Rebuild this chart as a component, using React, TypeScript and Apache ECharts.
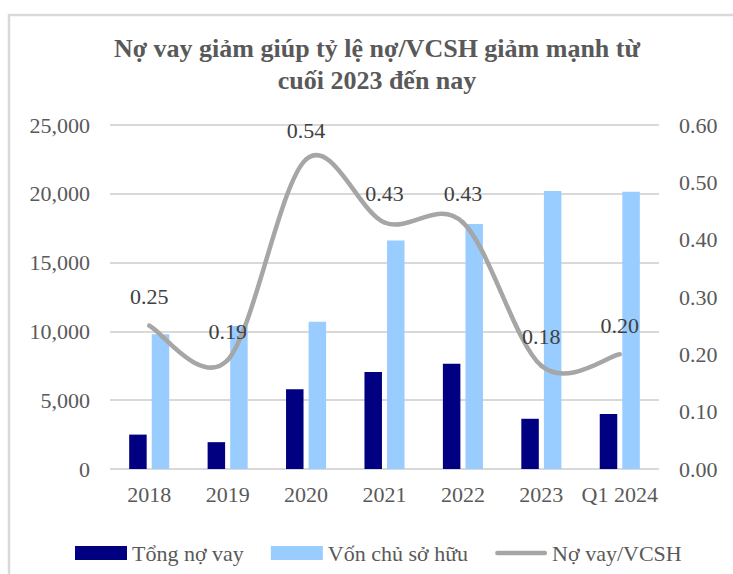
import React, { useEffect, useRef } from "react";
import * as echarts from "echarts";

const categories = ["2018", "2019", "2020", "2021", "2022", "2023", "Q1 2024"];
const totalDebt = [2500, 1950, 5800, 7050, 7650, 3650, 4000];
const equity = [9800, 10400, 10700, 16600, 17800, 20200, 20150];
const debtToEquity = [0.25, 0.19, 0.54, 0.43, 0.43, 0.18, 0.2];
const seriesNames = ["Tổng nợ vay", "Vốn chủ sở hữu", "Nợ vay/VCSH"];
const titleText = "Nợ vay giảm giúp tỷ lệ nợ/VCSH giảm mạnh từ\ncuối 2023 đến nay";

const FONT = "'Liberation Serif', 'DejaVu Serif', serif";
const TEXT_GREY = "#595959";
const LINE_GREY = "#a6a6a6";

function renderCurve(params: any, api: any) {
  const i = params.dataIndex;
  const n = debtToEquity.length;
  const pt = (j: number) => {
    const k = Math.max(0, Math.min(n - 1, j));
    return api.coord([k, debtToEquity[k]]);
  };
  const p1 = pt(i);
  const children: any[] = [];
  if (i < n - 1) {
    const p0 = pt(i - 1);
    const p2 = pt(i + 1);
    const p3 = pt(i + 2);
    const c1 = [p1[0] + (p2[0] - p0[0]) / 6, p1[1] + (p2[1] - p0[1]) / 6];
    const c2 = [p2[0] - (p3[0] - p1[0]) / 6, p2[1] - (p3[1] - p1[1]) / 6];
    children.push({
      type: "path",
      shape: {
        pathData: `M${p1[0]},${p1[1]} C${c1[0]},${c1[1]} ${c2[0]},${c2[1]} ${p2[0]},${p2[1]}`,
      },
      style: { fill: "none", stroke: LINE_GREY, lineWidth: 4.5, lineCap: "round" },
      z2: 1,
    });
  }
  children.push({
    type: "text",
    x: p1[0],
    y: p1[1] - 29,
    style: {
      text: debtToEquity[i].toFixed(2),
      fill: "#404040",
      fontFamily: FONT,
      fontSize: 22,
      align: "center",
      verticalAlign: "middle",
    },
    z2: 2,
  });
  return { type: "group", children };
}

export default function App() {
  const ref = useRef<HTMLDivElement>(null);
  useEffect(() => {
    if (!ref.current) return;
    const chart = echarts.init(ref.current, undefined, { renderer: "svg" });
    chart.setOption({
      animation: false,
      backgroundColor: "#ffffff",
      textStyle: { fontFamily: FONT },
      graphic: [
        {
          type: "rect",
          shape: { x: 9, y: 15, width: 740, height: 580 },
          style: { fill: "none", stroke: "#d9d9d9", lineWidth: 2.5 },
          silent: true,
          z: -10,
        },
      ],
      title: {
        text: titleText,
        left: 372,
        top: 27,
        textAlign: "center",
        textStyle: {
          fontFamily: FONT,
          fontSize: 26,
          fontWeight: "bold",
          color: TEXT_GREY,
          lineHeight: 32,
        },
      },
      legend: {
        data: [
          { name: seriesNames[0], icon: "rect" },
          { name: seriesNames[1], icon: "rect" },
          {
            name: seriesNames[2],
            icon: "path://M2.5,0L54.5,0A2.5,2.5,0,0,1,54.5,5L2.5,5A2.5,2.5,0,0,1,2.5,0Z",
          },
        ],
        symbolKeepAspect: true,
        left: 70,
        top: 537,
        itemWidth: 52,
        itemHeight: 14,
        itemGap: 27,
        textStyle: { fontFamily: FONT, fontSize: 22, color: TEXT_GREY },
      },
      grid: { left: 110, right: 74, top: 125, bottom: 105, containLabel: false },
      xAxis: {
        type: "category",
        data: categories,
        axisLine: { show: false },
        axisTick: { show: false },
        axisLabel: { fontFamily: FONT, fontSize: 22, color: TEXT_GREY, margin: 14, interval: 0 },
      },
      yAxis: [
        {
          type: "value",
          min: 0,
          max: 25000,
          interval: 5000,
          axisLine: { show: false },
          axisTick: { show: false },
          splitLine: { lineStyle: { color: "#d9d9d9", width: 2 } },
          axisLabel: {
            fontFamily: FONT,
            fontSize: 22,
            color: TEXT_GREY,
            margin: 20,
            formatter: (v: number) => v.toLocaleString("en-US"),
          },
        },
        {
          type: "value",
          min: 0,
          max: 0.6,
          interval: 0.1,
          axisLine: { show: false },
          axisTick: { show: false },
          splitLine: { show: false },
          axisLabel: {
            fontFamily: FONT,
            fontSize: 22,
            color: TEXT_GREY,
            margin: 20,
            formatter: (v: number) => v.toFixed(2),
          },
        },
      ],
      series: [
        {
          name: seriesNames[0],
          type: "bar",
          data: totalDebt,
          barWidth: 17.5,
          barGap: "29%",
          itemStyle: { color: "#000080" },
        },
        {
          name: seriesNames[1],
          type: "bar",
          data: equity,
          barWidth: 17.5,
          barGap: "29%",
          itemStyle: { color: "#99ccff" },
        },
        {
          name: seriesNames[2],
          type: "custom",
          yAxisIndex: 1,
          data: debtToEquity.map((v, i) => [i, v]),
          encode: { x: 0, y: 1 },
          itemStyle: { color: LINE_GREY },
          renderItem: renderCurve,
          clip: false,
          z: 5,
        },
      ],
    });
    return () => chart.dispose();
  }, []);
  return (
    <div
      ref={ref}
      style={{ position: "fixed", left: 0, top: 0, width: 733, height: 574 }}
    />
  );
}
